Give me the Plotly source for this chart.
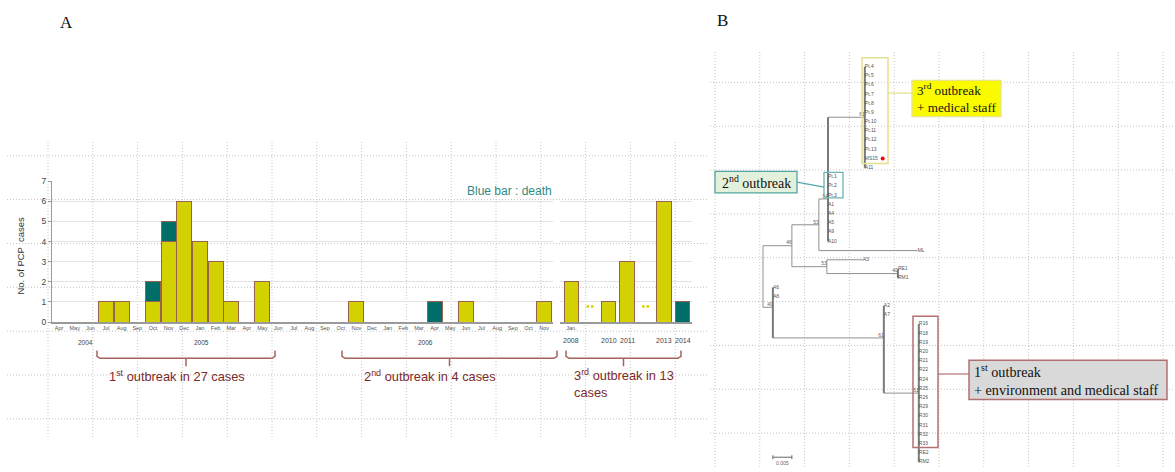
import plotly.graph_objects as go

W, H = 1175, 472


def PX(x):
    return x / W


def PY(y):
    return 1 - y / H


# ---------------- Panel A data ----------------
months = ["Apr", "May", "Jun", "Jul", "Aug", "Sep", "Oct", "Nov", "Dec", "Jan", "Feb", "Mar",
          "Apr", "May", "Jun", "Jul", "Aug", "Sep", "Oct", "Nov", "Dec", "Jan", "Feb", "Mar",
          "Apr", "May", "Jun", "Jul", "Aug", "Sep", "Oct", "Nov"]
survived = [0, 0, 0, 1, 1, 0, 1, 4, 6, 4, 3, 1,
            0, 2, 0, 0, 0, 0, 0, 1, 0, 0, 0, 0,
            0, 0, 1, 0, 0, 0, 0, 1]
deaths = [0, 0, 0, 0, 0, 0, 1, 1, 0, 0, 0, 0,
          0, 0, 0, 0, 0, 0, 0, 0, 0, 0, 0, 0,
          1, 0, 0, 0, 0, 0, 0, 0]
year_labels_a = ["2004", "2005", "2006"]
year_label_month_a = [1.7, 9.1, 23.4]

years_c = [2008, 2010, 2011, 2013, 2014]
survived_c = [2, 1, 3, 6, 0]
deaths_c = [0, 0, 0, 0, 1]
gap_years = [2007, 2009, 2012]

outbreak_texts = ["1<sup>st</sup> outbreak in 27 cases",
                  "2<sup>nd</sup> outbreak in 4 cases",
                  "3<sup>rd</sup> outbreak in 13<br>cases"]

# ---------------- Panel B data (tree) ----------------
clade3 = ["Pt.4", "Pt.5", "Pt.6", "Pt.7", "Pt.8", "Pt.9", "Pt.10", "Pt.11", "Pt.12",
          "Pt.13", "MS15", "A11"]
clade2 = ["Pt.1", "Pt.2", "Pt.3", "A1", "A4", "A5", "A9", "A10"]
clade1 = ["R16", "R18", "R19", "R20", "R21", "R22", "R24", "R25", "R26", "R29", "R30",
          "R31", "R32", "R33", "RE2", "RM2"]


def L(name, length=0.0):
    return (name, length, [])


# branch lengths in units of 0.001 substitutions/site
tree = ("root", 0.0, [
    ("n792", 7.6, [
        ("n819", 7.1, [
            ("n828", 2.4, [("c3", 9.7, [L(n) for n in clade3])] + [L(n) for n in clade2]),
            L("ML", 26.0)]),
        ("n827", 9.2, [L("A3", 9.5), ("n898", 18.7, [L("RE1"), L("RM1")])])]),
    ("n773", 2.6, [L("A6"), L("A8"),
                   ("n884", 29.2, [L("A2"), L("A7"),
                                   ("n919", 9.2, [L(n) for n in clade1])])])])
bootstrap = {"c3": 61, "n828": 54, "n819": 53, "n792": 46, "n827": 53, "n898": 40,
             "n773": 40, "n884": 61, "n919": 51}
scale_bar_units = 5.0
scale_bar_label = "0.005"

# colours
YEL = "#d3d100"
TEAL = "#006e68"
EDGE = "#9a6050"

fig = go.Figure()

# ---- panel A bars
xi = list(range(len(months)))
fig.add_trace(go.Bar(x=xi, y=survived, width=0.96, marker=dict(color=YEL, line=dict(color=EDGE, width=1)),
                     xaxis="x", yaxis="y"))
fig.add_trace(go.Bar(x=xi, y=deaths, width=0.96, marker=dict(color=TEAL, line=dict(color=EDGE, width=1)),
                     xaxis="x", yaxis="y"))
fig.add_trace(go.Bar(x=years_c, y=survived_c, width=0.8, marker=dict(color=YEL, line=dict(color=EDGE, width=1)),
                     xaxis="x2", yaxis="y"))
fig.add_trace(go.Bar(x=years_c, y=deaths_c, width=0.8, marker=dict(color=TEAL, line=dict(color=EDGE, width=1)),
                     xaxis="x2", yaxis="y"))
# break dots for missing years
gx, gy = [], []
for g in gap_years:
    gx += [g - 0.12, g + 0.12]
    gy += [0.78, 0.78]
fig.add_trace(go.Scatter(x=gx, y=gy, mode="markers", marker=dict(symbol="square", size=2.5, color=YEL),
                         xaxis="x2", yaxis="y", cliponaxis=False, hoverinfo="skip"))

# ---- tree layout
leaf_pos = {}
node_pos = {}
thin_x, thin_y, thick_x, thick_y = [], [], [], []
counter = [0]


def layout(node, x0):
    name, length, kids = node
    x = x0 + length
    if not kids:
        y = counter[0]
        counter[0] += 1
        leaf_pos[name] = (x, y)
        return x, y
    child = [layout(k, x) for k in kids]
    ys = [c[1] for c in child]
    y = sum(ys) / len(ys)
    node_pos[name] = (x, y)
    zero_leaves = sum(1 for k in kids if not k[2] and k[1] == 0)
    if zero_leaves >= 2:
        thick_x.extend([x, x, None]); thick_y.extend([min(ys), max(ys), None])
    else:
        thin_x.extend([x, x, None]); thin_y.extend([min(ys), max(ys), None])
    for c in child:
        if c[0] > x:
            thin_x.extend([x, c[0], None]); thin_y.extend([c[1], c[1], None])
    return x, y


layout(tree, 0.0)

fig.add_trace(go.Scatter(x=thin_x, y=thin_y, mode="lines", line=dict(color="#909090", width=1),
                         xaxis="x3", yaxis="y3", hoverinfo="skip"))
fig.add_trace(go.Scatter(x=thick_x, y=thick_y, mode="lines", line=dict(color="#7a7a7a", width=2),
                         xaxis="x3", yaxis="y3", hoverinfo="skip"))
names = list(leaf_pos.keys())
fig.add_trace(go.Scatter(x=[leaf_pos[n][0] for n in names], y=[leaf_pos[n][1] for n in names],
                         mode="text", text=names, textposition="middle right",
                         textfont=dict(size=5, color="#555", family="Liberation Sans"),
                         xaxis="x3", yaxis="y3", hoverinfo="skip", cliponaxis=False))
bn = list(bootstrap.keys())
fig.add_trace(go.Scatter(x=[node_pos[n][0] for n in bn], y=[node_pos[n][1] for n in bn],
                         mode="text", text=[str(bootstrap[n]) for n in bn], textposition="top left",
                         textfont=dict(size=5, color="#666", family="Liberation Sans"),
                         xaxis="x3", yaxis="y3", hoverinfo="skip", cliponaxis=False))
# red mark for MS15
fig.add_trace(go.Scatter(x=[leaf_pos["MS15"][0] + 4.7], y=[leaf_pos["MS15"][1]], mode="markers",
                         marker=dict(color="#ff0000", size=4), xaxis="x3", yaxis="y3", hoverinfo="skip"))

# ---- axes
px_per_unit = 3.8
root_px = 763
leaf0_px, leaf_step = 63, 9.395

fig.update_layout(
    width=W, height=H, margin=dict(l=0, r=0, t=0, b=0),
    paper_bgcolor="white", plot_bgcolor="rgba(0,0,0,0)",
    barmode="stack", showlegend=False,
    font=dict(family="Liberation Sans"),
    xaxis=dict(domain=[PX(52), PX(553)], range=[-0.45, 31.57], anchor="y",
               tickmode="array", tickvals=xi, ticktext=months,
               tickfont=dict(size=5.5, color="#555"), showline=True, linecolor="#9a9a9a",
               linewidth=1.5, showgrid=False, zeroline=False, ticks=""),
    xaxis2=dict(domain=[PX(560), PX(692)], range=[2007.38, 2014.51], anchor="y",
                tickmode="array", tickvals=[years_c[0]], ticktext=["Jan."],
                tickfont=dict(size=5.5, color="#555"), showline=True, linecolor="#9a9a9a",
                linewidth=1.5, showgrid=False, zeroline=False, ticks=""),
    yaxis=dict(domain=[PY(324), PY(180)], range=[0, 7], tickmode="array", tickvals=list(range(8)),
               tickfont=dict(size=8.5, color="#444"), ticks="outside", ticklen=3, tickcolor="#999",
               showline=True, linecolor="#9a9a9a", linewidth=1, showgrid=True, gridcolor="#e2e2e2",
               zeroline=False),
    xaxis3=dict(domain=[PX(715), 1], range=[-(root_px - 715) / px_per_unit, (W - root_px) / px_per_unit],
                anchor="y3", visible=False),
    yaxis3=dict(domain=[0, 1], range=[(H - leaf0_px) / leaf_step, -leaf0_px / leaf_step],
                anchor="x3", visible=False),
)

shapes = []
GRID = dict(color="#c4c4c4", width=1, dash="1px,2px")
# page dotted grid - left
for k in range(15):
    x = 48 + 44.8 * k
    shapes.append(dict(type="line", xref="paper", yref="paper", x0=PX(x), x1=PX(x), y0=PY(140), y1=PY(442),
                       line=GRID, layer="below"))
for k in range(7):
    y = 154 + 44.8 * k
    shapes.append(dict(type="line", xref="paper", yref="paper", x0=PX(7), x1=PX(708), y0=PY(y), y1=PY(y),
                       line=GRID, layer="below"))
# right
for k in range(11):
    x = 715 + 44.8 * k
    shapes.append(dict(type="line", xref="paper", yref="paper", x0=PX(x), x1=PX(x), y0=PY(48), y1=PY(472),
                       line=GRID, layer="below"))
for k in range(9):
    y = 79 + 44.8 * k
    shapes.append(dict(type="line", xref="paper", yref="paper", x0=PX(710), x1=PX(1175), y0=PY(y), y1=PY(y),
                       line=GRID, layer="below"))


def ppath(pts):
    s = ""
    for (cmd, x, y) in pts:
        s += f"{cmd} {PX(x):.5f},{PY(y):.5f} "
    return s.strip()


BR = dict(color="#a5625c", width=1.5)
for (a, b) in [(97, 275), (342, 557), (566, 681)]:
    c = (a + b) / 2
    shapes.append(dict(type="path", xref="paper", yref="paper", line=BR,
                       path=ppath([("M", a, 353), ("L", a, 359), ("L", a + 3, 361), ("L", b - 3, 361),
                                   ("L", b, 359), ("L", b, 353)])))
    shapes.append(dict(type="line", xref="paper", yref="paper", x0=PX(c), x1=PX(c), y0=PY(361), y1=PY(369),
                       line=BR))


def rect(x0, y0, x1, y1, line, fill="rgba(0,0,0,0)", w=1.3):
    shapes.append(dict(type="rect", xref="paper", yref="paper", x0=PX(x0), x1=PX(x1), y0=PY(y1), y1=PY(y0),
                       line=dict(color=line, width=w), fillcolor=fill))


def seg(x0, y0, x1, y1, color, w=1.2):
    shapes.append(dict(type="line", xref="paper", yref="paper", x0=PX(x0), x1=PX(x1), y0=PY(y0), y1=PY(y1),
                       line=dict(color=color, width=w)))


rect(862, 54, 888, 162, "#e4df8c", w=1.5)
seg(888, 90, 912, 90, "#e4df8c")
rect(912, 77, 1001, 114, "#e8e48a", fill="#fbfb00")
rect(824, 171, 843, 197, "#6cb4b4")
seg(797, 181, 824, 186, "#52a5a2")
rect(715, 170, 797, 192, "#52a5a2", fill="#e3f0db")
rect(913, 318, 938, 452, "#b37070", w=1.5)
seg(938, 377, 969, 377, "#b37070")
rect(969, 363, 1167, 403, "#b37070", fill="#d9d9d9", w=1.5)
# scale bar
sb_x0 = node_pos["n773"][0]
SB = dict(color="#666", width=1)
shapes.append(dict(type="line", xref="x3", yref="paper", x0=sb_x0, x1=sb_x0 + scale_bar_units,
                   y0=PY(462), y1=PY(462), line=SB))
shapes.append(dict(type="line", xref="x3", yref="paper", x0=sb_x0, x1=sb_x0, y0=PY(460), y1=PY(464), line=SB))
shapes.append(dict(type="line", xref="x3", yref="paper", x0=sb_x0 + scale_bar_units,
                   x1=sb_x0 + scale_bar_units, y0=PY(460), y1=PY(464), line=SB))

ann = []
SERIF = "Liberation Serif"


def A(text, x, y, xref="paper", size=10, color="#111", family=None, xanchor="center", **kw):
    f = dict(size=size, color=color)
    if family:
        f["family"] = family
    ann.append(dict(text=text, x=x, y=y, xref=xref, yref="paper", showarrow=False,
                    xanchor=xanchor, yanchor="middle", font=f, **kw))


A("A", PX(66), PY(18), size=17, family=SERIF)
A("B", PX(722), PY(16), size=17, family=SERIF)
A("No. of PCP  cases", PX(21), PY(256), size=9.5, color="#333", textangle=-90)
A("Blue bar : death", PX(509), PY(190), size=12, color="#2e8b86")
for t, m in zip(year_labels_a, year_label_month_a):
    A(t, m, PY(345), xref="x", size=6.5, color="#444")
for yv in years_c:
    A(str(yv), yv, PY(343), xref="x2", size=7, color="#444")
OBC = "#7b2a2a"
A(outbreak_texts[0], PX(107), PY(379), size=12.8, color=OBC, xanchor="left")
A(outbreak_texts[1], PX(362), PY(379), size=12.8, color=OBC, xanchor="left")
A(outbreak_texts[2], PX(572), PY(387), size=12.8, color=OBC, xanchor="left", align="left")
A("3<sup>rd</sup> outbreak<br>+ medical staff", PX(915), PY(95), size=13.2, family=SERIF,
  xanchor="left", align="left")
A("2<sup>nd</sup> outbreak", PX(756), PY(181), size=14, family=SERIF)
A("1<sup>st</sup> outbreak<br>+ environment and medical staff", PX(972), PY(383), size=14.2, family=SERIF,
  xanchor="left", align="left")
A(scale_bar_label, sb_x0 + scale_bar_units / 2, PY(468), xref="x3", size=5, color="#666")

fig.update_layout(shapes=shapes, annotations=ann)
fig.write_html("out.html", config={"displayModeBar": False},
               post_script="document.body.style.margin='0px';document.body.style.overflow='hidden';")
